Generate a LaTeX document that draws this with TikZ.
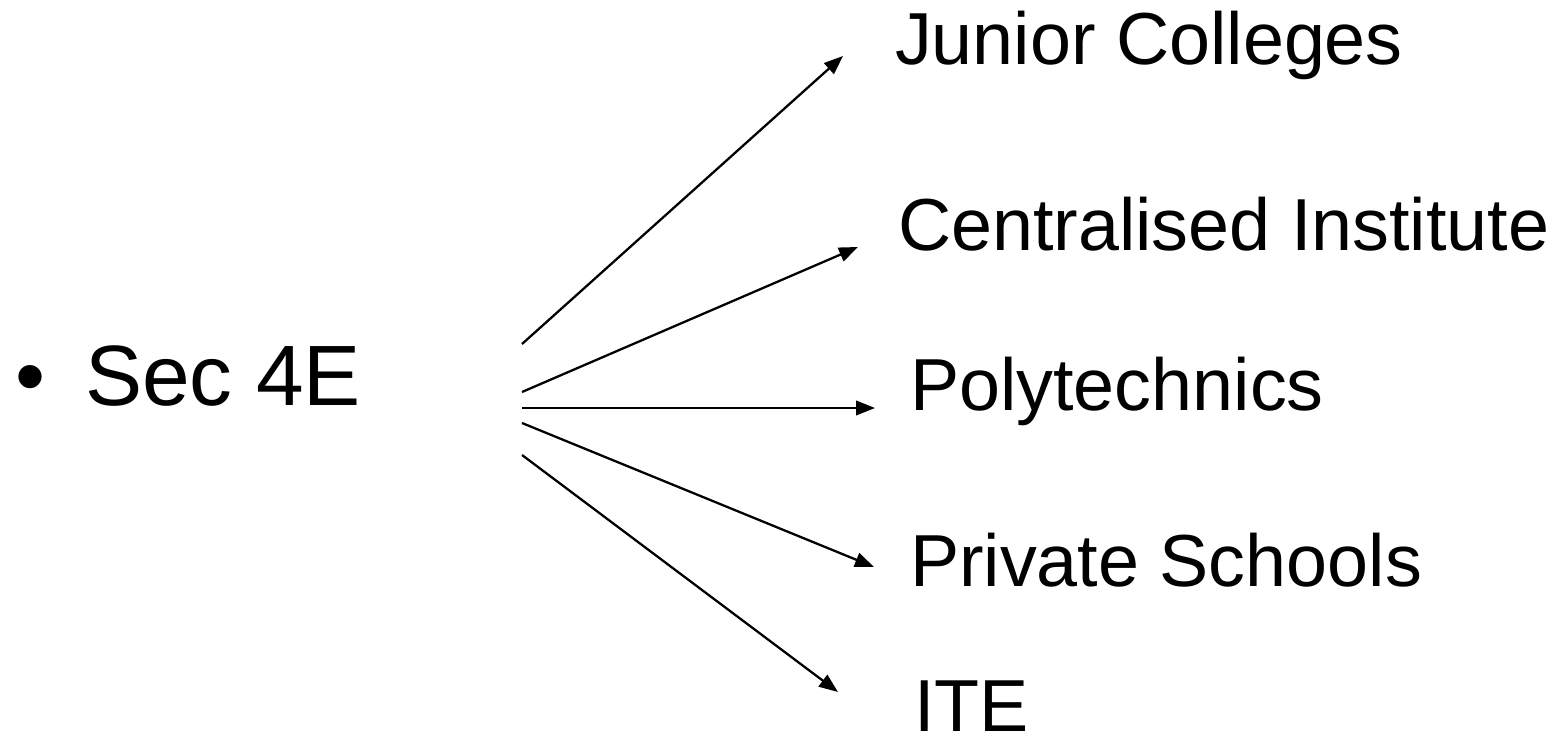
\documentclass[tikz,border=0pt]{standalone}
\usepackage{fontspec}
\setmainfont{Liberation Sans}
\usetikzlibrary{arrows.meta}
\tikzset{
  lbl/.style={anchor=base west, inner sep=0pt, outer sep=0pt, font=\fontsize{41.95}{50}\selectfont},
  big/.style={anchor=base west, inner sep=0pt, outer sep=0pt, font=\fontsize{48.75}{58}\selectfont},
  conn/.style={line width=1.3pt, -{Triangle[length=0.38cm, width=0.29cm]}}
}
\begin{document}
\begin{tikzpicture}[x=0.02cm, y=-0.02cm]
\useasboundingbox (0,0) rectangle (1566,740);
% source
\node[big] (bul) at (15,405) {•};
\node[big] (sec) at (85,405) {Sec 4E};
% targets
\node[lbl] (jc) at (895,65) {Junior Colleges};
\node[lbl] (ci) at (898,250) {Centralised Institute};
\node[lbl] (po) at (910,410) {Polytechnics};
\node[lbl] (ps) at (910,586) {Private Schools};
\node[lbl] (ite) at (914,731) {ITE};
% connector ends
\coordinate (s1) at (522,344);
\coordinate (s2) at (522,392);
\coordinate (s3) at (522,408);
\coordinate (s4) at (522,423);
\coordinate (s5) at (522,455);
\coordinate (t1) at (843,56);
\coordinate (t2) at (858,247);
\coordinate (t3) at (875,408);
\coordinate (t4) at (874,567);
\coordinate (t5) at (838,692);
\draw[conn] (s1) -- (t1);
\draw[conn] (s2) -- (t2);
\draw[conn] (s3) -- (t3);
\draw[conn] (s4) -- (t4);
\draw[conn] (s5) -- (t5);
\end{tikzpicture}
\end{document}
